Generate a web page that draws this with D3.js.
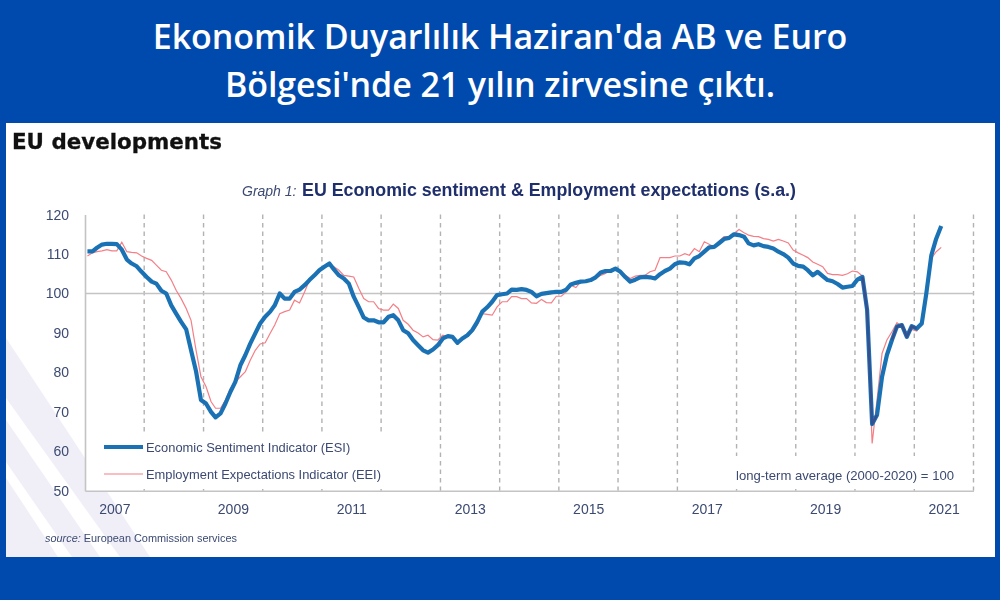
<!DOCTYPE html>
<html><head><meta charset="utf-8">
<script src="https://cdn.jsdelivr.net/npm/d3@7"></script>
<style>html,body{margin:0;padding:0;background:#004aad}svg{display:block}</style></head>
<body><svg id="c" width="1000" height="600"></svg>
<script>
const headline = ["Ekonomik Duyarlılık Haziran'da AB ve Euro", "Bölgesi'nde 21 yılın zirvesine çıktı."];
const esi = [
110.7,110.7,111.6,112.4,112.6,112.6,112.5,111.1,108.6,107.6,106.9,105.5,
104.2,103,102.5,100.7,100,97,94.9,92.8,90.9,85.6,80.2,73,
72.1,70,68.6,69.6,72.1,75.1,77.6,81.8,84.4,87.3,89.9,92.4,
94.1,95.4,97,100,98.7,98.7,100.4,101,102.1,103.4,104.6,105.9,
106.8,107.6,106.1,104.6,103.8,102.5,99.2,96.6,93.9,93.2,93.2,92.7,
92.7,94.1,94.5,93.2,90.7,89.9,88.2,86.9,85.6,85,85.8,86.9,
88.6,89.2,89,87.5,88.6,89.4,90.7,92.8,95.4,96.5,97.9,99.6,
99.8,100,101,100.9,101.1,100.9,100.4,99.3,99.9,100.1,100.3,100.4,
100.4,101,102.3,102.7,103,103.1,103.4,104.1,105.3,105.7,105.7,106.3,
105.5,104.1,103,103.5,104.1,104.2,104.1,103.8,104.9,105.7,106.3,107.4,
107.9,107.8,107.4,108.9,109.5,110.6,111.7,111.8,112.8,113.8,114.1,115,
114.8,114.4,112.7,112.2,112.5,112,111.8,111.4,110.6,110,109.1,107.6,
107,106.8,105.9,104.6,105.5,104.4,103.4,103.1,102.4,101.5,101.7,101.9,
103.5,104.2,95.8,66.9,69.2,78.9,84.4,88.2,91.6,92,89,91.7,
91.1,92.4,100,109.7,113.9,117.1];
const eei = [
109.5,110.3,110.6,110.8,111.1,110.8,110.8,113,110.6,110.4,110.3,109.5,
108.9,108.4,107.2,105.9,105.5,103.4,100.8,98.7,96.2,93.2,85.6,78.9,
76.4,72.6,70.9,70.9,73,75.9,77.6,78.9,80.2,83.1,85.6,87.2,
87.5,89.9,92,94.9,95.4,95.8,98.3,97.6,100.4,103.4,105,106.1,
106.8,107.4,106.8,105.9,104.6,104.4,104.2,101.3,98.7,97.9,97.9,96.2,
95.8,95.8,97.3,96.2,93.2,92.2,90.7,90,89,89.4,88.3,88.2,
89.4,89,89,87.8,88.6,89.2,90.3,92,94.9,94.7,94.5,96.6,
97.9,97.9,99.2,99.2,98.7,98.7,97.6,97.5,98.5,97.7,97.6,99.3,
99.3,100.4,102.1,101.5,103,103,103.4,103.8,104.6,105.1,105.9,106.3,
105.5,104.6,103.8,104.4,104.6,104.6,105.5,105.9,109.1,109.1,109.1,109.5,
109.5,110.1,109.7,111.4,110.6,113.1,112.5,111.8,113.3,114.4,114.5,115.2,
116.2,115.4,114.8,114.5,114.4,113.9,113.7,113.3,113.7,113.3,112.8,111,
110.3,109.7,109.1,108,107.4,106.8,105.1,104.8,104.8,104.6,105,105.7,
105.5,104.4,94.1,62,73,84.8,88.2,90.3,92.6,91.6,89.9,90.9,
90.5,92.4,99.2,108.9,110.6,111.7];
const yTicks = [50,60,70,80,90,100,110,120];
const yearLabels = [2007,2009,2011,2013,2015,2017,2019,2021];
const seriesNames = ["Economic Sentiment Indicator (ESI)","Employment Expectations Indicator (EEI)"];

const months = esi.map((_,i)=>new Date(Date.UTC(2007,i,16)));
const svg = d3.select("#c");
const arial = "'Liberation Sans',Arial,sans-serif", ink="#3c4a72", navy="#1f2f6b";
const blue="#1a72b5", red="#f47f86", grey="#c4c4c4";

svg.append("rect").attr("width",1000).attr("height",600).attr("fill","#004aad");
svg.append("rect").attr("x",6).attr("y",123).attr("width",989).attr("height",434).attr("fill","#fff");

svg.selectAll("text.hd").data(headline).join("text").attr("class","hd")
  .attr("x",500).attr("y",(d,i)=>49+i*48).attr("text-anchor","middle")
  .attr("fill","#fff").attr("font-family","'Open Sans',sans-serif").attr("font-weight",600)
  .attr("font-size",34).attr("letter-spacing",-0.1).text(d=>d);

// faint watermark in the panel's lower-left corner, hidden behind the plot area
const wm = svg.append("g");
wm.append("path").attr("fill","#f0eff8").attr("d",d3.line()([[6,338],[150,557],[6,557]])+"Z");
wm.append("path").attr("fill","#fff").attr("d",d3.line()([[6,398],[6,420],[100,557],[120,557]])+"Z");
wm.append("path").attr("fill","#fff").attr("d",d3.line()([[6,462],[6,478],[58,557],[72,557]])+"Z");
svg.append("rect").attr("x",85).attr("y",215).attr("width",889).attr("height",276).attr("fill","#fff");

const g = svg.append("g").style("filter","blur(0.35px)");
const x = d3.scaleUtc().domain([new Date(Date.UTC(2007,0,1)),new Date(Date.UTC(2022,0,1))]).range([85,973.5]);
const y = d3.scaleLinear().domain([50,120]).range([490.7,214.6]);

g.append("text").attr("x",12).attr("y",149).attr("font-family","'DejaVu Sans',sans-serif")
  .attr("font-weight",700).attr("font-size",21.4).attr("fill","#111").attr("stroke","#111").attr("stroke-width",0.3).text("EU developments");
g.append("text").attr("x",242).attr("y",196).attr("font-family",arial).attr("font-style","italic")
  .attr("font-size",14).attr("fill",ink).text("Graph 1:");
g.append("text").attr("x",302).attr("y",196).attr("font-family",arial).attr("font-weight",700)
  .attr("font-size",18).attr("fill",navy).attr("textLength",494).attr("lengthAdjust","spacingAndGlyphs")
  .text("EU Economic sentiment & Employment expectations (s.a.)");

// dashed year gridlines
const gridYears = d3.range(2008,2023).map(v=>new Date(Date.UTC(v,0,1)));
g.append("g").selectAll("line").data(gridYears).join("line")
  .attr("x1",d=>x(d)).attr("x2",d=>x(d)).attr("y1",y(120)).attr("y2",y(50))
  .attr("stroke","#b2b2b2").attr("stroke-width",1.4).attr("stroke-dasharray","4.5 4");
g.append("rect").attr("x",90).attr("y",433).attr("width",345).attr("height",56).attr("fill","#fff");
g.append("rect").attr("x",700).attr("y",456).attr("width",268).attr("height",33).attr("fill","#fff");

g.append("line").attr("x1",x.range()[0]).attr("x2",x.range()[1]).attr("y1",y(100)).attr("y2",y(100))
  .attr("stroke",grey).attr("stroke-width",1.5);

const yAxis = d3.axisLeft(y).tickValues(yTicks).tickSize(0).tickPadding(16);
const ya = g.append("g").attr("transform","translate(85,0)").call(yAxis);
ya.select(".domain").attr("stroke",grey).attr("stroke-width",1.6);
ya.selectAll("text").attr("font-family",arial).attr("font-size",14).attr("fill",ink);

const xAxis = d3.axisBottom(x).tickValues(yearLabels.map(v=>new Date(Date.UTC(v,6,1))))
  .tickFormat(d3.utcFormat("%Y")).tickSize(0).tickPadding(13);
const xa = g.append("g").attr("transform",`translate(0,${y(50)})`).call(xAxis);
xa.select(".domain").attr("stroke",grey).attr("stroke-width",1.6);
xa.selectAll("text").attr("font-family",arial).attr("font-size",14).attr("fill",ink);

const line = d3.line().x((d,i)=>x(months[i])).y(d=>y(d));
g.append("path").datum(eei).attr("d",line).attr("fill","none").attr("stroke",red).attr("stroke-width",1.2);
g.append("path").datum(esi).attr("d",line).attr("fill","none").attr("stroke",blue).attr("stroke-width",4.2).attr("stroke-linejoin","round");
// the thick ESI line reads darker where it overlaps EEI in the 2020 collapse and recovery
const overlap = d3.line().defined((d,i)=>(i>=157&&i<=160)||(i>=163&&i<=168)).x((d,i)=>x(months[i])).y(d=>y(d));
g.append("path").datum(esi).attr("d",overlap).attr("fill","none").attr("stroke","#36508f").attr("stroke-width",2.4).attr("stroke-linejoin","round");

const legendY=[447,474];
g.selectAll("line.lg").data(seriesNames).join("line").attr("class","lg")
  .attr("x1",104).attr("x2",143).attr("y1",(d,i)=>legendY[i]).attr("y2",(d,i)=>legendY[i])
  .attr("stroke",(d,i)=>i?red:blue).attr("stroke-width",(d,i)=>i?1.2:3.8);
g.selectAll("text.lg").data(seriesNames).join("text").attr("class","lg")
  .attr("x",146).attr("y",(d,i)=>legendY[i]+5).attr("font-family",arial).attr("font-size",12.9).attr("fill",ink).text(d=>d);
g.append("text").attr("x",736).attr("y",480).attr("font-family",arial).attr("font-size",13.1).attr("fill",ink)
  .text("long-term average (2000-2020) = 100");
const src = g.append("text").attr("x",45).attr("y",542).attr("font-family",arial).attr("font-size",10.9).attr("fill",ink);
src.append("tspan").attr("font-style","italic").text("source: ");
src.append("tspan").text("European Commission services");
</script></body></html>
